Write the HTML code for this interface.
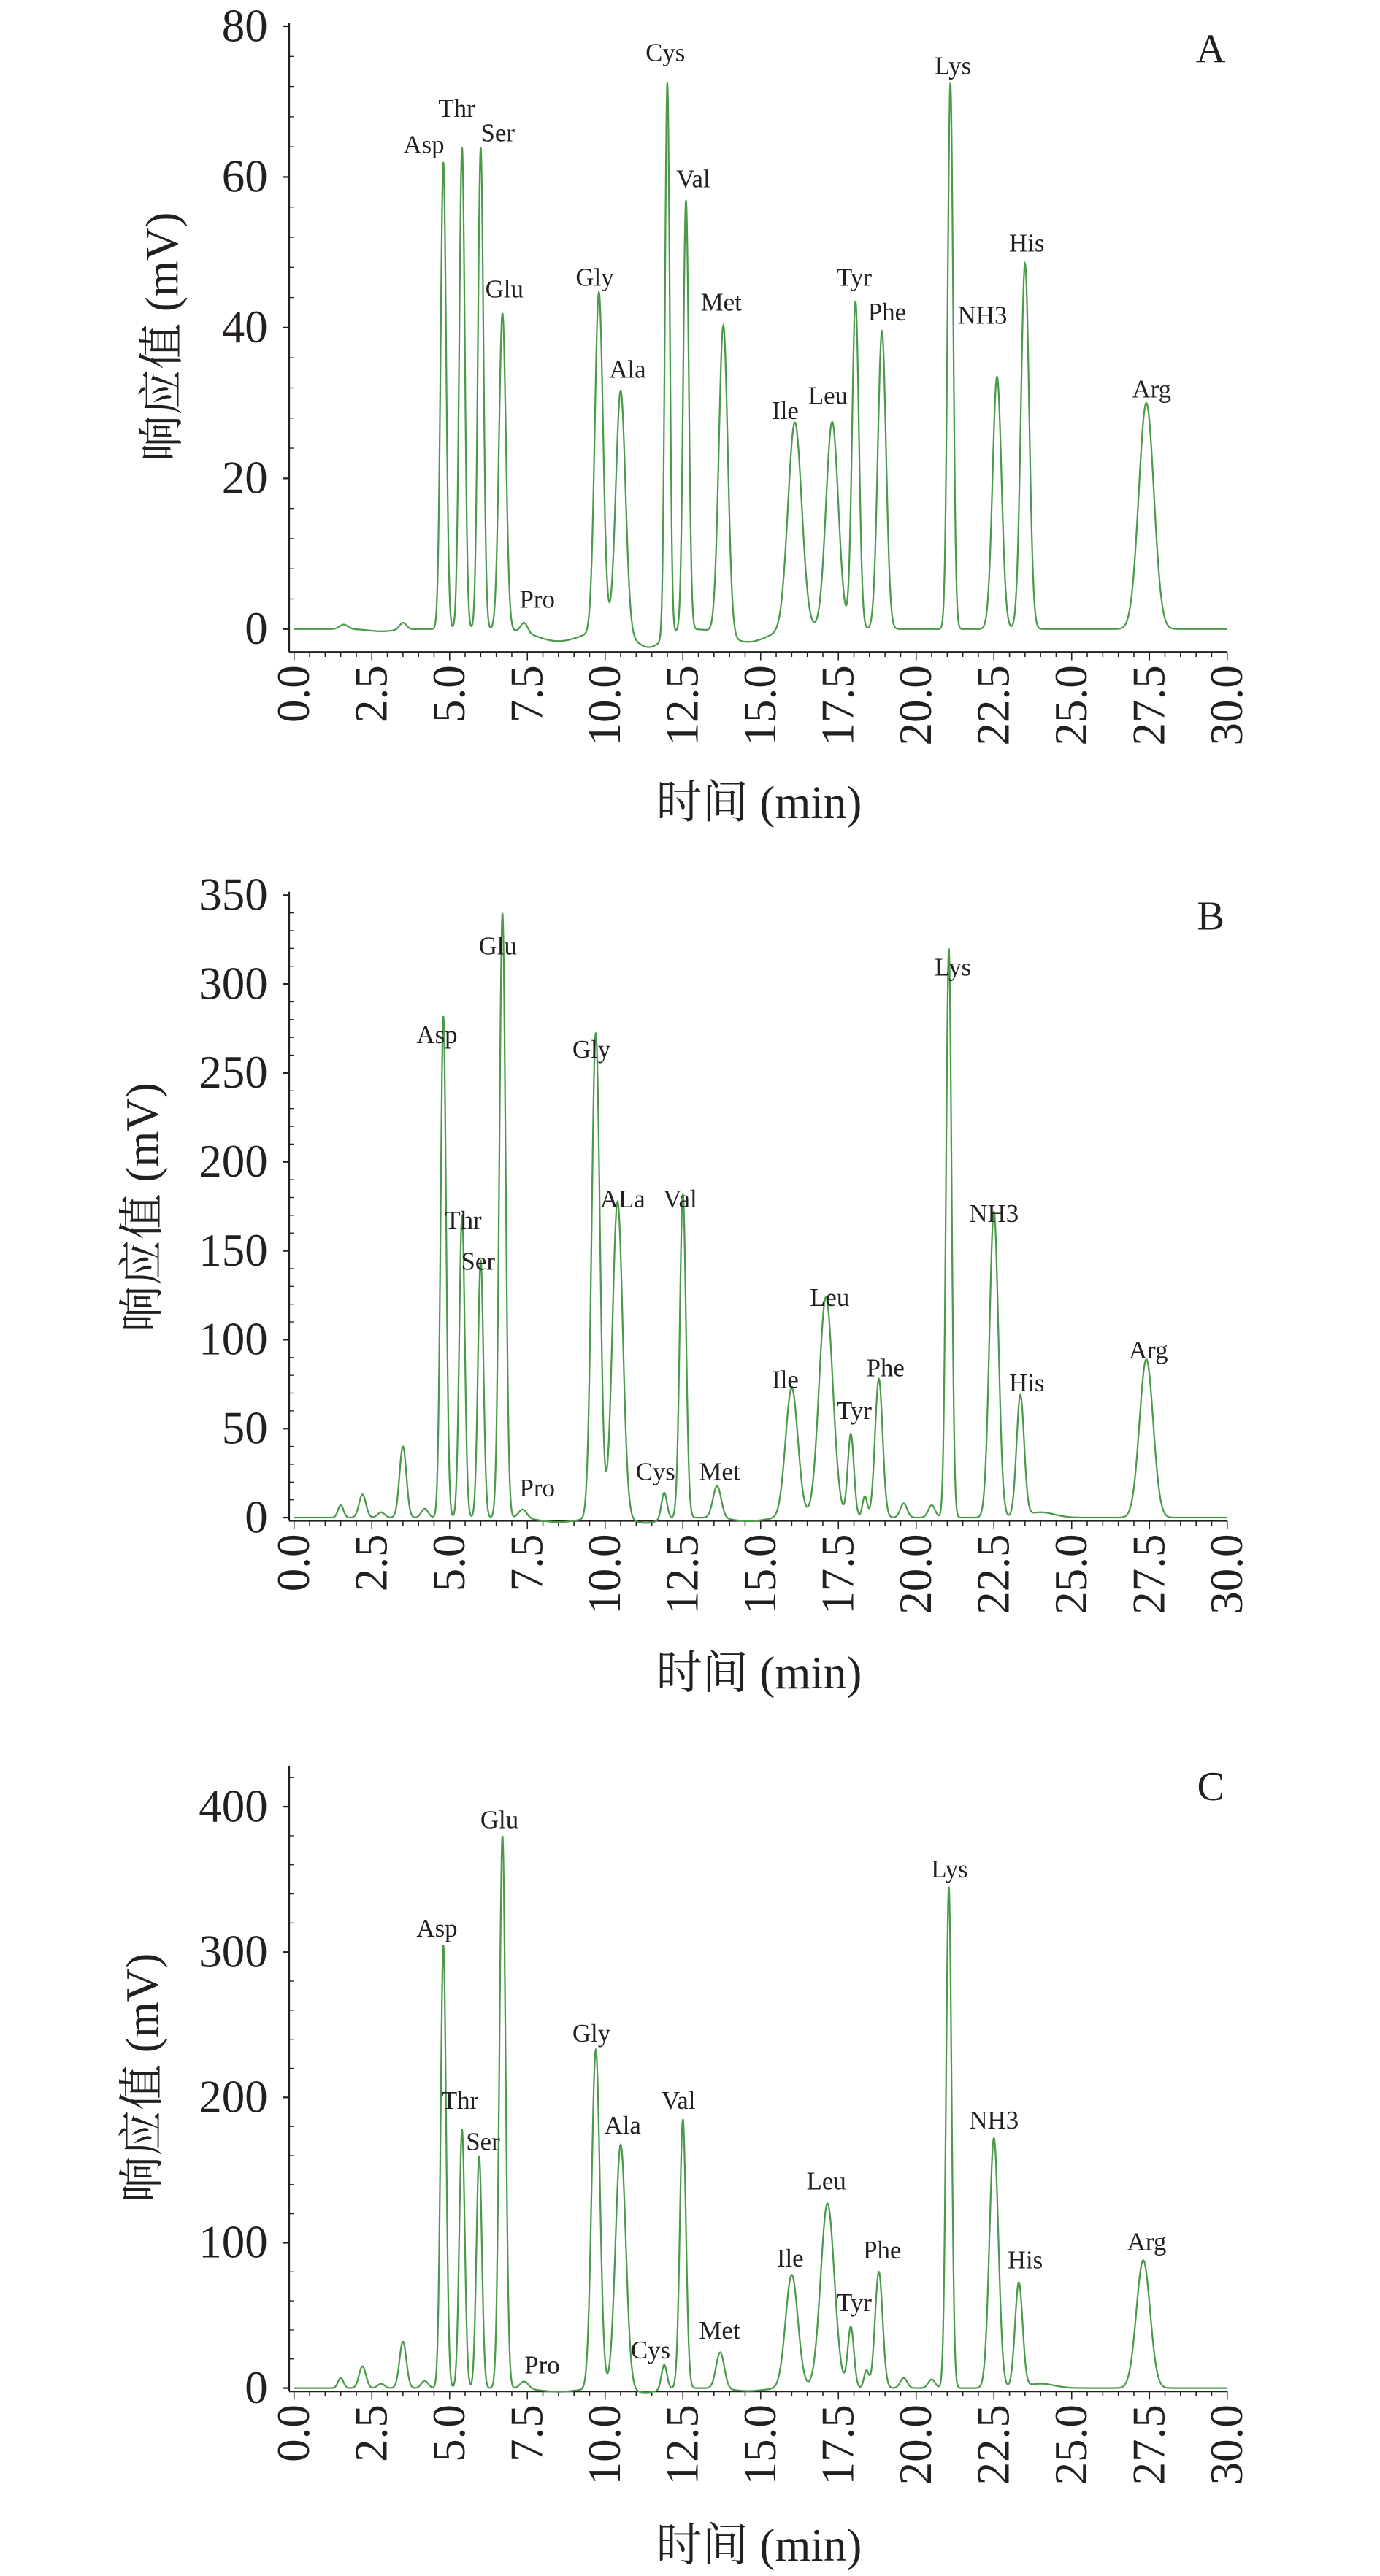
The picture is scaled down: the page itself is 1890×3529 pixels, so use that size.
<!DOCTYPE html>
<html><head><meta charset="utf-8"><style>
html,body{margin:0;padding:0;background:#fff}
svg{display:block}
text{font-family:"Liberation Serif","Noto Serif CJK SC",serif;fill:#231f20}
</style></head><body>
<svg id="s" width="1890" height="3529" viewBox="0 0 840 1568.4" preserveAspectRatio="none" xmlns="http://www.w3.org/2000/svg"></svg>
<script>
const S=document.getElementById('s');const NS='http://www.w3.org/2000/svg';
function el(t,a,txt){const e=document.createElementNS(NS,t);for(const k in a)e.setAttribute(k,a[k]);if(txt!==undefined)e.textContent=txt;S.appendChild(e);return e;}
const X0=179,X1=747,AX=176;
function xp(t){return X0+(X1-X0)*t/30;}
function panel(P){
 const yp=v=>P.y0+(P.yTop-P.y0)*v/P.vTop;
 el('line',{x1:AX,y1:P.axTop,x2:AX,y2:P.axBot,stroke:'#231f20','stroke-width':1});
 el('line',{x1:AX,y1:P.axBot,x2:X1,y2:P.axBot,stroke:'#231f20','stroke-width':1});
 for(let v=0;v<=P.vTop+1e-9;v+=P.step){const y=yp(v);
  el('line',{x1:AX-4,y1:y,x2:AX,y2:y,stroke:'#231f20','stroke-width':1});
  el('text',{x:163,y:y+9,'font-size':28,'text-anchor':'end'},String(v));
  for(let k=1;k<5;k++){const y2=yp(v+P.step*k/5);if(y2>P.axTop)el('line',{x1:AX,y1:y2,x2:AX+3,y2:y2,stroke:'#231f20','stroke-width':0.6});}
 }
 for(let t=0;t<=30;t+=0.5){const x=xp(t);el('line',{x1:x,y1:P.axBot,x2:x,y2:P.axBot+(t%2.5==0?5:3),stroke:'#231f20','stroke-width':0.7});}
 for(let t=0;t<=30;t+=2.5){const x=xp(t);el('text',{x:0,y:0,'font-size':28,'text-anchor':'end',transform:`translate(${x+9},${P.axBot+8}) rotate(-90)`},t.toFixed(1));}
 el('text',{x:462,y:P.xl,'font-size':28,'text-anchor':'middle'},'时间 (min)');
 el('text',{x:0,y:0,'font-size':28,'text-anchor':'middle',transform:`translate(${P.ylx},${P.yly}) rotate(-90)`},'响应值 (mV)');
 el('text',{x:737,y:P.ly,'font-size':25,'text-anchor':'middle'},P.L);
 let d='';
 for(let t=0;t<=30;t+=0.01){let v=0;
  for(const p of P.pk){const z=(t-p[0])/(p[2]*1.1);v+=p[1]*Math.exp(-z*z/2);}
  for(const b of P.bl){const z=(t-b[0])/b[2];v+=b[1]*Math.exp(-z*z/2);}
  d+=(d?'L':'M')+xp(t).toFixed(2)+' '+yp(v).toFixed(2);}
 el('path',{d:d,fill:'none',stroke:'#4a9a4a','stroke-width':1});
 for(const l of P.lab)el('text',{x:l[1],y:l[2]+5,'font-size':15.5,'text-anchor':'middle'},l[0]);
}
panel({L:'A',y0:383,yTop:16,vTop:80,step:20,axTop:14,axBot:397,xl:498,ylx:108,yly:205,ly:38,
 pk:[[1.6,0.6,0.12],[3.5,0.9,0.1],[4.8,62,0.08],[5.4,64,0.08],[6.0,64,0.08],[6.7,42,0.1],[7.4,1.3,0.1],[9.8,45,0.12],[10.5,32,0.14],[12.0,73.5,0.07],[12.6,57,0.08],[13.8,41,0.13],[16.1,27.5,0.2],[17.3,27.5,0.18],[18.05,43.5,0.1],[18.9,39.5,0.12],[21.1,72.5,0.08],[22.6,33.5,0.13],[23.5,48.5,0.12],[27.4,30,0.22]],
 bl:[[8.5,-1.6,0.7],[11.4,-2.4,0.45],[14.6,-1.7,0.6],[2.8,-0.3,0.4]],
 lab:[['Asp',258,88],['Thr',278,66],['Ser',303,81],['Glu',307,176],['Pro',327,365],['Gly',362,169],['Ala',382,225],['Cys',405,32],['Val',422,109],['Met',439,184],['Ile',478,250],['Leu',504,241],['Tyr',520,169],['Phe',540,190],['Lys',580,40],['NH3',598,192],['His',625,148],['Arg',701,237]]});
panel({L:'B',y0:924,yTop:545,vTop:350,step:50,axTop:543,axBot:926,xl:1028,ylx:96,yly:735,ly:566,
 pk:[[1.5,7,0.08],[2.2,13,0.1],[2.8,3,0.1],[3.5,40,0.1],[4.2,5,0.1],[4.8,282,0.08],[5.4,170,0.08],[6.0,145,0.08],[6.7,340,0.09],[7.35,5,0.12],[9.7,273,0.12],[10.4,178,0.15],[11.9,15,0.08],[12.5,182,0.09],[13.6,18,0.12],[16.0,73,0.18],[17.1,124,0.2],[17.9,47,0.09],[18.35,12,0.07],[18.8,78,0.11],[19.6,8,0.1],[20.5,7,0.1],[21.05,320,0.08],[22.5,172,0.13],[23.35,68,0.11],[27.4,89,0.2],[24.0,3,0.4]],
 bl:[[8.5,-2.5,0.6],[11.3,-3,0.4],[14.6,-2,0.5]],
 lab:[['Asp',266,630],['Glu',303,576],['Thr',282,743],['Ser',291,768],['Gly',360,639],['ALa',379,730],['Val',414,730],['Pro',327,906],['Cys',399,896],['Met',438,896],['Ile',478,840],['Leu',505,790],['Tyr',520,859],['Phe',539,833],['Lys',580,589],['NH3',605,739],['His',625,842],['Arg',699,822]]});
panel({L:'C',y0:1454,yTop:1100,vTop:400,step:100,axTop:1075,axBot:1456,xl:1559,ylx:96,yly:1265,ly:1096,
 pk:[[1.5,7,0.08],[2.2,15,0.1],[2.8,3,0.1],[3.5,32,0.1],[4.2,5,0.1],[4.8,305,0.08],[5.4,178,0.08],[5.95,160,0.08],[6.7,380,0.09],[7.4,5,0.12],[9.7,233,0.12],[10.5,168,0.15],[11.9,17,0.08],[12.5,185,0.09],[13.7,25,0.12],[16.0,78,0.18],[17.15,127,0.2],[17.9,42,0.09],[18.4,12,0.07],[18.8,80,0.11],[19.6,7,0.1],[20.5,6,0.1],[21.05,345,0.08],[22.5,172,0.13],[23.3,72,0.11],[27.3,88,0.2],[24.0,3,0.4]],
 bl:[[8.5,-2.5,0.6],[11.3,-3,0.4],[14.6,-2,0.5]],
 lab:[['Asp',266,1174],['Glu',304,1108],['Thr',280,1279],['Ser',294,1304],['Gly',360,1238],['Ala',379,1294],['Val',413,1279],['Pro',330,1440],['Cys',396,1431],['Met',438,1419],['Ile',481,1375],['Leu',503,1328],['Tyr',520,1402],['Phe',537,1370],['Lys',578,1138],['NH3',605,1291],['His',624,1376],['Arg',698,1365]]});
</script>
</body></html>
